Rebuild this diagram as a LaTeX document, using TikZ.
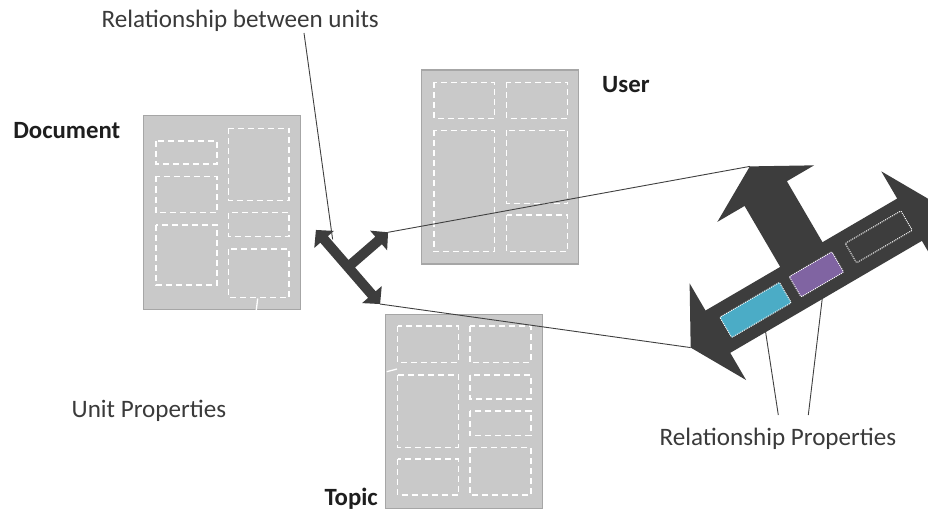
\documentclass[tikz,border=0pt]{standalone}
\usepackage{fontspec}
\setmainfont{Carlito}
\definecolor{boxfill}{HTML}{C9C9C9}
\definecolor{boxline}{HTML}{A6A6A6}
\definecolor{arrowdark}{HTML}{3D3D3D}
\definecolor{aqua}{HTML}{4BACC6}
\definecolor{purp}{HTML}{8064A2}
\definecolor{txt}{HTML}{3A3A3A}
\definecolor{txtb}{HTML}{1E1E1E}
\newcommand\RelShape[5]{%
  \fill[arrowdark] (-#1,0) -- (-#1+#2,-#3) -- (-#1+#2,-#4) -- (-#4,-#4) -- (-#4,-#5+#2)
   -- (-#3,-#5+#2) -- (0,-#5) -- (#3,-#5+#2) -- (#4,-#5+#2) -- (#4,-#4) -- (#1-#2,-#4)
   -- (#1-#2,-#3) -- (#1,0) -- (#1-#2,#3) -- (#1-#2,#4) -- (-#1+#2,#4) -- (-#1+#2,#3) -- cycle;}
\tikzset{
  unitbox/.style={draw=boxline, fill=boxfill, line width=1.5pt, anchor=north west,
    minimum width=157pt, minimum height=194pt, inner sep=0pt, outer sep=0pt},
  slot/.style={draw=white, dash pattern=on 6pt off 4pt, line width=1.3pt},
  link/.style={draw=black!75, line width=0.9pt},
  lbl/.style={font=\fontsize{25.1}{29}\selectfont, text=txt, inner sep=0pt},
  blbl/.style={font=\fontsize{24.8}{29}\selectfont\bfseries, text=txtb, inner sep=0pt},
  propbox/.style={draw=white, line width=1pt, dash pattern=on 1pt off 1pt, rounded corners=1pt}
}
\begin{document}
\begin{tikzpicture}[x=1pt,y=-1pt]
\clip (0,0) rectangle (928,513);
\fill[white] (0,0) rectangle (928,513);

% unit boxes
\node[unitbox] (doc) at (143.3,115.7) {};
\node[unitbox] (user) at (421.7,70) {};
\node[unitbox] (topic) at (385.7,314.7) {};

% document slots
\draw[slot] (156,141) rectangle (217,164);
\draw[slot] (156,176.5) rectangle (217,212.5);
\draw[slot] (156,225) rectangle (217,285);
\draw[slot] (228.5,128.5) rectangle (289,200.5);
\draw[slot] (228.5,212.5) rectangle (289,236.5);
\draw[slot] (228.5,249) rectangle (289,297.5);
\draw[white, line width=1.3pt] (257.7,298.5) -- (256.3,310);

% user slots
\draw[slot] (434,82.5) rectangle (494.5,118.5);
\draw[slot] (506.5,82.5) rectangle (567.5,118.5);
\draw[slot] (434,130.5) rectangle (494.5,251.5);
\draw[slot] (506.5,130.5) rectangle (567.5,203.5);
\draw[slot] (506.5,215) rectangle (567.5,251.5);

% topic slots
\draw[slot] (397.7,326) rectangle (458.3,362.7);
\draw[slot] (470,326) rectangle (531,362.7);
\draw[slot] (397.7,375) rectangle (458.3,447.3);
\draw[slot] (470,375) rectangle (531,399);
\draw[slot] (470,411) rectangle (531,435.7);
\draw[slot] (397.7,459) rectangle (458.3,495);
\draw[slot] (470,447.3) rectangle (531,495);
\draw[white, line width=1.3pt] (386.7,371.7) -- (397,369);

% small relationship arrow
\begin{scope}[shift={(348,267)}, rotate=-49.1]
  \RelShape{49}{12.5}{13}{5}{53}
  \coordinate (sa-lt) at (-49,0);
  \coordinate (sa-rt) at (49,0);
  \coordinate (sa-bt) at (0,-53);
  \coordinate (sa-in) at (-31,-6.5);
\end{scope}

% big relationship arrow
\begin{scope}[shift={(813.7,275.7)}, rotate=30.3]
  \RelShape{142.5}{31.5}{56}{24.5}{126.6}
  \fill[aqua] (-102,-11.5) rectangle (-33,12);
  \draw[propbox] (-102,-11.5) rectangle (-33,12);
  \fill[purp] (-21.6,-11.5) rectangle (27.7,12);
  \draw[propbox] (-21.6,-11.5) rectangle (27.7,12);
  \draw[propbox] (43.5,-12) rectangle (108,10.5);
  \coordinate (ba-lt) at (-142.5,0);
  \coordinate (ba-bt) at (0,-126.6);
  \coordinate (ba-p1) at (-70,24.5);
  \coordinate (ba-p2) at (-4.5,24.5);
\end{scope}

% labels
\node[lbl, anchor=base west] (rbu) at (101.5,27.3) {Relationship between units};
\node[blbl, anchor=base east] (doclbl) at (120.5,138.3) {Document};
\node[blbl, anchor=base west] (userlbl) at (602,92.3) {User};
\node[blbl, anchor=base east] (topiclbl) at (378,505) {Topic};
\node[lbl, anchor=base west] (uplbl) at (71.5,417.3) {Unit Properties};
\node[lbl, anchor=base west] (rplbl) at (659.5,445) {Relationship Properties};

\coordinate (rbu-end) at (304,33);
\coordinate (rp-end1) at (778.3,415);
\coordinate (rp-end2) at (808.3,415);

% connectors
\draw[link] (rbu-end) -- (sa-in);
\draw[link] (sa-bt) -- (ba-bt);
\draw[link] (sa-rt) -- (ba-lt);
\draw[link] (ba-p1) -- (rp-end1);
\draw[link] (ba-p2) -- (rp-end2);
\end{tikzpicture}
\end{document}
